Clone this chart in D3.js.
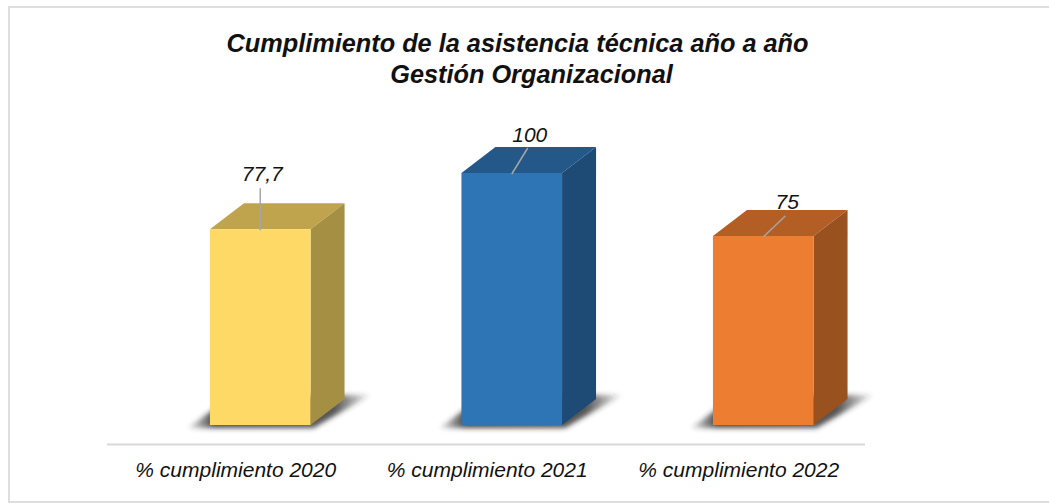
<!DOCTYPE html>
<html>
<head>
<meta charset="utf-8">
<script src="https://cdn.jsdelivr.net/npm/d3@7"></script>
<style>
  html, body { margin: 0; padding: 0; background: #fff; overflow: hidden; }
  svg { display: block; }
  text { font-family: "Liberation Sans", Arial, sans-serif; font-style: italic; fill: #111; }
</style>
</head>
<body>
<div id="chart"></div>
<script>
var categories = ["% cumplimiento 2020", "% cumplimiento 2021", "% cumplimiento 2022"];
var values = [77.7, 100, 75];
var valueLabels = ["77,7", "100", "75"];
var titleLines = ["Cumplimiento de la asistencia técnica año a año", "Gestión Organizacional"];

var frontColors = ["#ffd966", "#2e75b6", "#ed7d31"];
var topColors = ["#bfa34d", "#235889", "#b25e25"];
var sideColors = ["#a58f42", "#1e4a76", "#995120"];

// leader line tip and label centre, relative to the bar's top centre
var leaderEnds = [[0, -41], [16, -25], [22, -20]];
var labelOffsets = [[2, -48], [18, -31], [24, -27]];
var titleCenters = [517.5, 531.5];

var width = 1049, height = 503;
var depthX = 34, depthY = 26;

var svg = d3.select("#chart").append("svg")
    .attr("width", width)
    .attr("height", height);

var defs = svg.append("defs");
defs.append("filter")
    .attr("id", "shadow-blur")
    .attr("x", "-20%").attr("y", "-40%")
    .attr("width", "140%").attr("height", "180%")
  .append("feGaussianBlur")
    .attr("stdDeviation", 2.5);

var shadowFade = defs.append("linearGradient").attr("id", "shadow-fade");
[[0, 0.1], [0.14, 0.85], [0.8, 0.8], [1, 0.05]].forEach(function(s) {
  shadowFade.append("stop")
      .attr("offset", s[0])
      .attr("stop-color", "#2b2b2b")
      .attr("stop-opacity", s[1]);
});

// outer frame, the right side runs off the page
svg.append("rect")
    .attr("x", 9).attr("y", 7)
    .attr("width", 1060).attr("height", 495)
    .attr("fill", "#fff")
    .attr("stroke", "#dedede")
    .attr("stroke-width", 2);

var x = d3.scaleBand()
    .domain(categories)
    .range([134.5, 889])
    .paddingInner(0.6)
    .paddingOuter(0.3);

var y = d3.scaleLinear().domain([0, 100]).range([425, 173]);

var title = svg.append("text")
    .attr("text-anchor", "middle")
    .attr("font-size", 25.3)
    .attr("font-weight", "bold");
title.selectAll("tspan")
    .data(titleLines)
  .enter().append("tspan")
    .attr("x", function(d, i) { return titleCenters[i]; })
    .attr("y", function(d, i) { return 52 + i * 31; })
    .text(function(d) { return d; });

var bars = svg.selectAll(".bar")
    .data(values)
  .enter().append("g")
    .attr("class", "bar");

function poly(points) {
  return points.map(function(p) { return p.join(","); }).join(" ");
}

// soft shadow on the floor
bars.append("polygon")
    .attr("points", function(d, i) {
      var x0 = x(categories[i]), x1 = x0 + x.bandwidth(), y0 = y(0);
      return poly([[x0 - 22, y0 + 3], [x0 + 4, y0 - 16], [x1, y0 - 30], [x1 + 60, y0 - 30], [x1 + 3, y0 + 3]]);
    })
    .attr("fill", "url(#shadow-fade)")
    .attr("filter", "url(#shadow-blur)");

bars.append("polygon")
    .attr("points", function(d, i) {
      var x0 = x(categories[i]), x1 = x0 + x.bandwidth(), yt = y(d);
      return poly([[x0, yt], [x0 + depthX, yt - depthY], [x1 + depthX, yt - depthY], [x1, yt]]);
    })
    .attr("fill", function(d, i) { return topColors[i]; });

bars.append("polygon")
    .attr("points", function(d, i) {
      var x1 = x(categories[i]) + x.bandwidth(), yt = y(d), y0 = y(0);
      return poly([[x1, yt], [x1 + depthX, yt - depthY], [x1 + depthX, y0 - depthY], [x1, y0]]);
    })
    .attr("fill", function(d, i) { return sideColors[i]; });

bars.append("rect")
    .attr("x", function(d, i) { return x(categories[i]); })
    .attr("y", function(d) { return y(d); })
    .attr("width", x.bandwidth())
    .attr("height", function(d) { return y(0) - y(d); })
    .attr("fill", function(d, i) { return frontColors[i]; });

// leader lines
bars.append("line")
    .attr("x1", function(d, i) { return x(categories[i]) + x.bandwidth() / 2; })
    .attr("y1", function(d) { return y(d) + 1; })
    .attr("x2", function(d, i) { return x(categories[i]) + x.bandwidth() / 2 + leaderEnds[i][0]; })
    .attr("y2", function(d, i) { return y(d) + leaderEnds[i][1]; })
    .attr("stroke", "#a6a6a6")
    .attr("stroke-width", 1.5);

bars.append("text")
    .attr("x", function(d, i) { return x(categories[i]) + x.bandwidth() / 2 + labelOffsets[i][0]; })
    .attr("y", function(d, i) { return y(d) + labelOffsets[i][1]; })
    .attr("text-anchor", "middle")
    .attr("font-size", 21)
    .text(function(d, i) { return valueLabels[i]; });

// category axis
svg.append("line")
    .attr("x1", 107).attr("x2", 865)
    .attr("y1", 444.5).attr("y2", 444.5)
    .attr("stroke", "#d9d9d9")
    .attr("stroke-width", 2);

svg.selectAll(".cat")
    .data(categories)
  .enter().append("text")
    .attr("class", "cat")
    .attr("x", function(d) { return x(d) + x.bandwidth() / 2 - 24.5; })
    .attr("y", 477)
    .attr("text-anchor", "middle")
    .attr("font-size", 21)
    .text(function(d) { return d; });
</script>
</body>
</html>
